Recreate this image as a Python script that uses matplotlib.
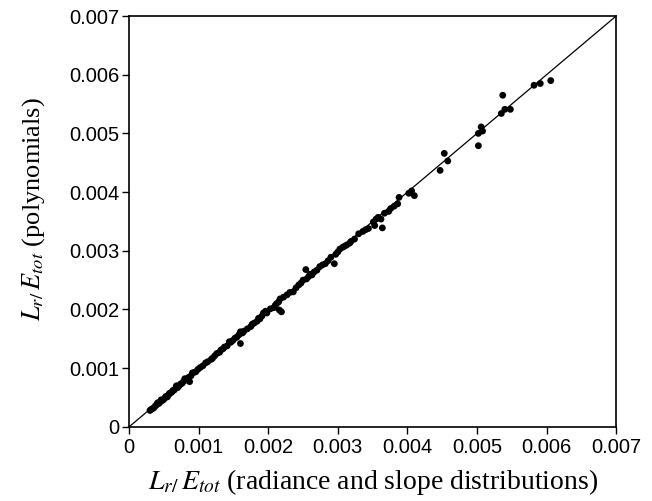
import matplotlib.pyplot as plt
import numpy as np

plt.rcParams['mathtext.fontset'] = 'stix'

# values, in units of 1e-3
x_vals = [0.30, 0.32, 0.34, 0.36, 0.38, 0.40, 0.41, 0.43, 0.45, 0.46, 0.48, 0.50, 0.52, 0.53,
          0.55, 0.57, 0.58, 0.60, 0.62, 0.63, 0.65, 0.67, 0.68, 0.70, 0.72, 0.74, 0.76, 0.78,
          0.80, 0.82, 0.85, 0.87, 0.89, 0.91, 0.94, 0.96, 0.99, 1.02, 1.06, 1.10, 1.13, 1.18,
          1.20, 1.23, 1.26, 1.30, 1.32, 1.35, 1.37, 1.41, 1.44, 1.46, 1.49, 1.52, 1.55, 1.58,
          1.60, 1.60, 1.63, 1.65, 1.70, 1.75, 1.77, 1.80, 1.84, 1.86, 1.88, 1.91, 1.93, 1.96,
          1.98, 2.03, 2.08, 2.10, 2.12, 2.15, 2.17, 2.19, 2.16, 2.22, 2.27, 2.31, 2.36, 2.40,
          2.44, 2.47, 2.50, 2.54, 2.55, 2.58, 2.60, 2.63, 2.66, 2.70, 2.74, 2.78, 2.82, 2.86,
          2.90, 2.95, 2.97, 3.00, 3.03, 3.07, 3.10, 3.13, 3.17, 3.19, 3.24, 3.30, 3.36, 3.40,
          3.44, 3.51, 3.53, 3.55, 3.58, 3.62, 3.64, 3.67, 3.73, 3.76, 3.81, 3.86, 3.88, 4.02,
          4.06, 4.10, 4.47, 4.53, 4.58, 5.02, 5.02, 5.06, 5.08, 5.35, 5.37, 5.40, 5.48, 5.82,
          5.91, 6.06]
y_vals = [0.28, 0.30, 0.31, 0.33, 0.36, 0.38, 0.41, 0.40, 0.43, 0.46, 0.45, 0.47, 0.50, 0.52,
          0.51, 0.55, 0.57, 0.58, 0.60, 0.62, 0.63, 0.66, 0.70, 0.67, 0.70, 0.73, 0.74, 0.77,
          0.82, 0.80, 0.84, 0.77, 0.87, 0.92, 0.93, 0.94, 0.98, 1.01, 1.04, 1.09, 1.11, 1.15,
          1.17, 1.21, 1.25, 1.27, 1.31, 1.33, 1.36, 1.38, 1.45, 1.44, 1.47, 1.51, 1.53, 1.57,
          1.62, 1.42, 1.60, 1.63, 1.67, 1.71, 1.75, 1.77, 1.80, 1.85, 1.84, 1.89, 1.94, 1.97,
          1.94, 2.01, 2.03, 2.07, 2.10, 2.13, 2.18, 1.96, 1.99, 2.21, 2.25, 2.29, 2.30, 2.37,
          2.42, 2.45, 2.50, 2.68, 2.52, 2.56, 2.60, 2.59, 2.64, 2.67, 2.73, 2.76, 2.78, 2.83,
          2.89, 2.78, 2.94, 2.98, 3.03, 3.06, 3.08, 3.10, 3.13, 3.16, 3.20, 3.29, 3.33, 3.36,
          3.38, 3.49, 3.43, 3.54, 3.57, 3.54, 3.39, 3.64, 3.67, 3.72, 3.76, 3.80, 3.91, 3.98,
          4.02, 3.94, 4.37, 4.66, 4.53, 5.00, 4.79, 5.11, 5.04, 5.34, 5.65, 5.41, 5.41, 5.82,
          5.85, 5.90]
ticks = [0, 0.001, 0.002, 0.003, 0.004, 0.005, 0.006, 0.007]
tick_labels = ['0', '0.001', '0.002', '0.003', '0.004', '0.005', '0.006', '0.007']

x = np.array(x_vals) * 1e-3
y = np.array(y_vals) * 1e-3

fig = plt.figure(figsize=(6.52, 5.01), dpi=100)
ax = fig.add_axes([0.198, 0.148, 0.747, 0.820])

ax.plot([0, 0.007], [0, 0.007], color='black', lw=0.9, zorder=1)
ax.scatter(x, y, s=24, color='black', edgecolors='none', zorder=2)

ax.set_xlim(0, 0.007)
ax.set_ylim(0, 0.007)
ax.set_xticks(ticks)
ax.set_xticklabels(tick_labels, fontfamily='Liberation Sans', fontsize=14.5)
ax.set_yticks(ticks)
ax.set_yticklabels(tick_labels, fontfamily='Liberation Sans', fontsize=14.5)
ax.tick_params(direction='out', length=5, width=1, colors='black', pad=2)
ax.tick_params(axis='x', pad=3)
for s in ax.spines.values():
    s.set_linewidth(1.2)

ax.set_xlabel(r'$L_{r/}\,E_{tot}$ (radiance and slope distributions)',
              fontfamily='Liberation Serif', fontsize=20, labelpad=7)
ax.set_ylabel(r'$L_{r/}\,E_{tot}$ (polynomials)',
              fontfamily='Liberation Serif', fontsize=19, labelpad=16)
ax.yaxis.label.set_y(0.53)

fig.savefig('out.png', dpi=100)
